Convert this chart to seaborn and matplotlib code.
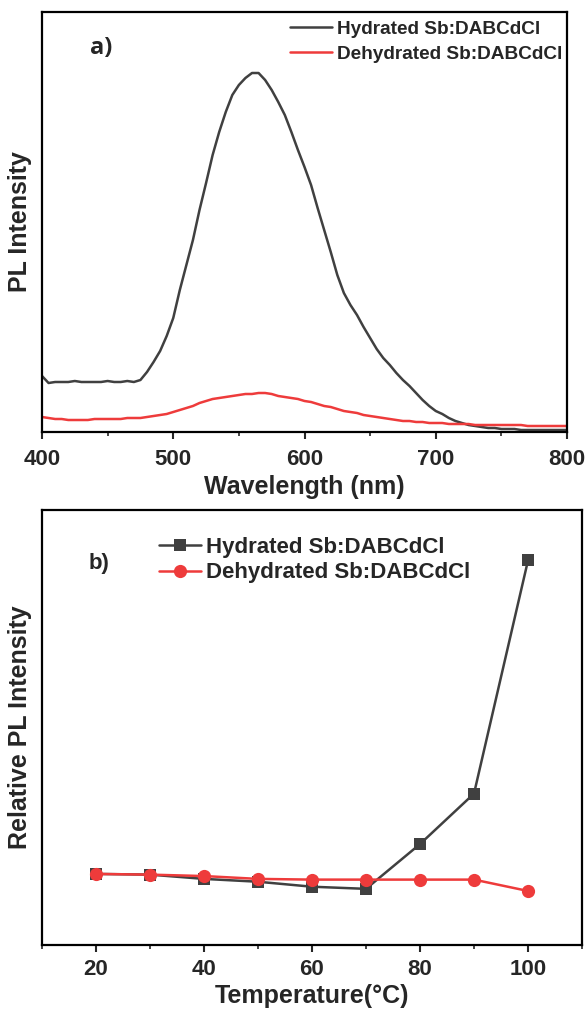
import numpy as np
import pandas as pd
import matplotlib
matplotlib.use("Agg")
import matplotlib.pyplot as plt
import seaborn as sns
from matplotlib.ticker import MultipleLocator

# ---- panel a) PL spectra (arbitrary units) ----
wavelength = list(range(400, 805, 5))
hydrated_pl = [
    56, 49, 50, 50, 50, 51, 50, 50, 50, 50,      # 400-445
    51, 50, 50, 51, 50, 52, 60, 70, 81, 96,      # 450-495
    114, 142, 167, 192, 222, 249, 277, 300, 320, 337,  # 500-545
    347, 354, 359, 359, 352, 342, 330, 317, 300, 282,  # 550-595
    265, 247, 224, 202, 180, 157, 139, 127, 117, 105,  # 600-645
    94, 83, 74, 67, 59, 52, 46, 39, 32, 26,      # 650-695
    21, 18, 14, 11, 9, 7, 6, 5, 4, 4,            # 700-745
    3, 3, 3, 2, 2, 2, 2, 2, 2, 2,                # 750-795
    2,                                           # 800
]
dehydrated_pl = [
    15, 14, 13, 13, 12, 12, 12, 12, 13, 13,      # 400-445
    13, 13, 13, 14, 14, 14, 15, 16, 17, 18,      # 450-495
    20, 22, 24, 26, 29, 31, 33, 34, 35, 36,      # 500-545
    37, 38, 38, 39, 39, 38, 36, 35, 34, 33,      # 550-595
    31, 30, 28, 26, 25, 23, 21, 20, 19, 17,      # 600-645
    16, 15, 14, 13, 12, 11, 11, 10, 10, 9,       # 650-695
    9, 9, 8, 8, 8, 8, 7, 7, 7, 7,                # 700-745
    7, 7, 7, 7, 6, 6, 6, 6, 6, 6,                # 750-795
    6,                                           # 800
]

# ---- panel b) relative PL vs temperature (normalised to 20 °C) ----
temperature = [20, 30, 40, 50, 60, 70, 80, 90, 100]
hydrated_rel = [1.00, 0.99, 0.93, 0.89, 0.82, 0.79, 1.42, 2.13, 5.41]
dehydrated_rel = [1.00, 0.99, 0.97, 0.93, 0.92, 0.92, 0.92, 0.92, 0.76]

label_h = "Hydrated Sb:DABCdCl"
label_d = "Dehydrated Sb:DABCdCl"
c_h = "#404040"
c_d = "#ee3b3b"

sns.set_theme(style="ticks")
plt.rcParams["font.family"] = ["Liberation Sans", "DejaVu Sans"]
plt.rcParams["font.weight"] = "bold"
plt.rcParams["axes.labelweight"] = "bold"
plt.rcParams["axes.linewidth"] = 1.6

fig = plt.figure(figsize=(5.85, 10.13), dpi=100)
# pixel boxes: top (42..567, 12..432), bottom (42..582, 510..945)
ax1 = fig.add_axes([42 / 585, 1 - 432 / 1013, 525 / 585, 420 / 1013])
ax2 = fig.add_axes([42 / 585, 1 - 945 / 1013, 540 / 585, 435 / 1013])

spec = pd.DataFrame({"wl": wavelength, "h": hydrated_pl, "d": dehydrated_pl})
sns.lineplot(data=spec, x="wl", y="h", color=c_h, lw=1.8, label=label_h, ax=ax1)
sns.lineplot(data=spec, x="wl", y="d", color=c_d, lw=1.8, label=label_d, ax=ax1)
ax1.set_xlim(400, 800)
ax1.set_ylim(0, 420)
ax1.xaxis.set_major_locator(MultipleLocator(100))
ax1.xaxis.set_minor_locator(MultipleLocator(50))
ax1.set_yticks([])
ax1.set_xlabel("Wavelength (nm)", fontsize=18, labelpad=4)
ax1.set_ylabel("PL Intensity", fontsize=18, labelpad=7)
ax1.text(0.092, 0.914, "a)", transform=ax1.transAxes, fontsize=17,
         fontweight="bold", va="center", family=["Open Sans", "DejaVu Sans"])
ax1.legend(loc="upper right", bbox_to_anchor=(1.01, 1.003), frameon=False,
           fontsize=13.7, handlelength=2.2, handletextpad=0.27,
           labelspacing=0.42, borderaxespad=0.1)

temps = pd.DataFrame({"t": temperature, "h": hydrated_rel, "d": dehydrated_rel})
sns.lineplot(data=temps, x="t", y="h", color=c_h, lw=1.8, marker="s",
             markersize=8, markeredgewidth=0, label=label_h, ax=ax2)
sns.lineplot(data=temps, x="t", y="d", color=c_d, lw=1.8, marker="o",
             markersize=9.5, markeredgewidth=0, label=label_d, ax=ax2)
ax2.set_xlim(10, 110)
ax2.set_ylim(0, 6.12)
ax2.xaxis.set_major_locator(MultipleLocator(20))
ax2.xaxis.set_minor_locator(MultipleLocator(10))
ax2.set_yticks([])
ax2.set_xlabel("Temperature(°C)", fontsize=18, labelpad=3)
ax2.set_ylabel("Relative PL Intensity", fontsize=18, labelpad=7)
ax2.text(0.087, 0.877, "b)", transform=ax2.transAxes, fontsize=16,
         fontweight="bold", va="center")
ax2.legend(loc="upper left", bbox_to_anchor=(0.18, 0.985), frameon=False,
           fontsize=16, handlelength=1.9, handletextpad=0.2,
           labelspacing=0.22)

for ax, pad in ((ax1, 7), (ax2, 5)):
    for s in ax.spines.values():
        s.set_visible(True)
        s.set_linewidth(1.6)
        s.set_color("black")
    ax.tick_params(axis="x", which="major", direction="out", length=5,
                   width=1.5, labelsize=16, pad=pad)
    ax.tick_params(axis="x", which="minor", direction="out", length=3,
                   width=1.2)
    for t in ax.get_xticklabels():
        t.set_fontweight("bold")

fig.savefig("out.png", dpi=100)
